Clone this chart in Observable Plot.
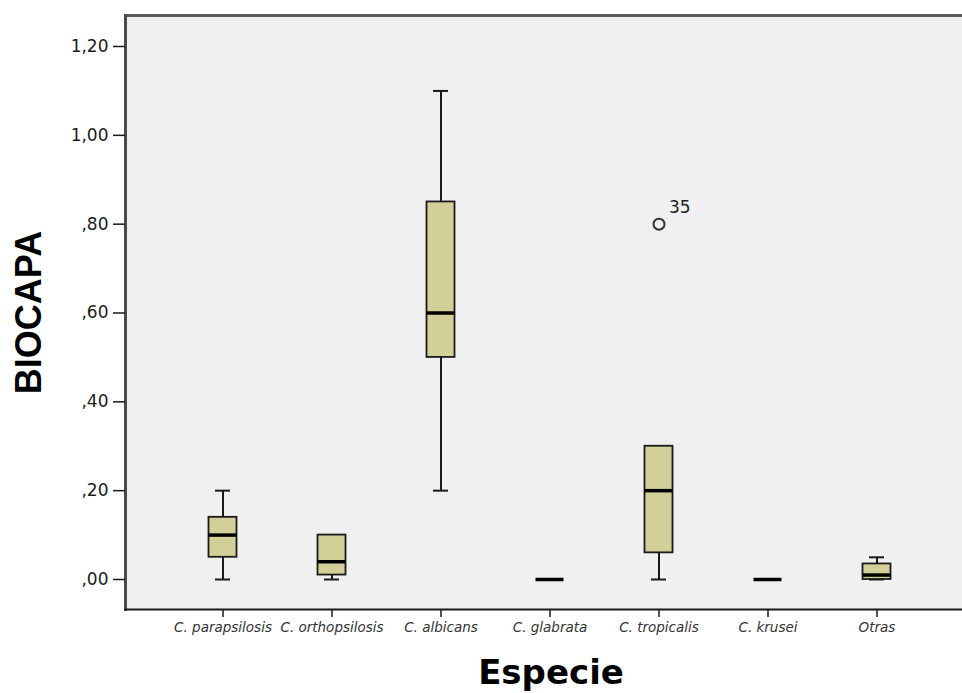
<!DOCTYPE html>
<html>
<head>
<meta charset="utf-8">
<script src="https://cdn.jsdelivr.net/npm/d3@7"></script>
<script src="https://cdn.jsdelivr.net/npm/@observablehq/plot@0.6"></script>
<style>
  body { margin: 0; background: #ffffff; }
  #chart svg [aria-label="x-axis tick label"] text { font-style: italic; }
</style>
</head>
<body>
<div id="chart"></div>
<script>
// Box-plot summaries of BIOCAPA by species
const species = ["C. parapsilosis", "C. orthopsilosis", "C. albicans", "C. glabrata", "C. tropicalis", "C. krusei", "Otras"];
const whiskerLow  = [0.00, 0.00, 0.20, 0.00, 0.00, 0.00, 0.00];
const q1          = [0.05, 0.01, 0.50, 0.00, 0.06, 0.00, 0.00];
const median      = [0.10, 0.04, 0.60, 0.00, 0.20, 0.00, 0.01];
const q3          = [0.14, 0.10, 0.85, 0.00, 0.30, 0.00, 0.035];
const whiskerHigh = [0.20, 0.10, 1.10, 0.00, 0.30, 0.00, 0.05];

// Outlying cases, labelled with their case number
const outlierSpecies = ["C. tropicalis"];
const outlierValue   = [0.80];
const outlierCase    = ["35"];

// Y axis ticks and their labels (comma decimal, no leading zero)
const yTicks      = [0, 0.2, 0.4, 0.6, 0.8, 1.0, 1.2];
const yTickLabels = [",00", ",20", ",40", ",60", ",80", "1,00", "1,20"];

const boxes = species.map((s, i) => ({
  species: s, low: whiskerLow[i], q1: q1[i], median: median[i], q3: q3[i], high: whiskerHigh[i]
}));
const outliers = outlierSpecies.map((s, i) => ({species: s, value: outlierValue[i], label: outlierCase[i]}));

const boxFill = "#d3cf98";
const ink = "#1a1a1a";

const chart = Plot.plot({
  width: 962,
  height: 693,
  marginLeft: 125,
  marginRight: 0,
  marginTop: 15,
  marginBottom: 84,
  style: {background: "#ffffff", fontFamily: "'Liberation Sans', Arial, sans-serif", color: ink},
  x: {type: "band", domain: species, padding: 0, insetLeft: 42.5, insetRight: 31.5, label: null},
  y: {domain: [0, 1.2], insetTop: 31, insetBottom: 30, label: null},
  marks: [
    Plot.frame({fill: "#f0f0f0", stroke: null}),
    Plot.frame({anchor: "top", stroke: "#5a5a5a", strokeWidth: 3}),
    Plot.frame({anchor: "left", stroke: "#4a4a4a", strokeWidth: 3}),
    Plot.frame({anchor: "bottom", stroke: ink, strokeWidth: 2}),

    Plot.axisY(yTicks, {
      tickFormat: d => yTickLabels[yTicks.indexOf(d)],
      tickSize: 12, tickPadding: 5, fontSize: 17,
      fontFamily: "'DejaVu Sans', sans-serif", stroke: ink, strokeWidth: 1.5, label: null
    }),
    Plot.axisX({
      tickSize: 8, tickPadding: 5, fontSize: 13.5,
      fontFamily: "'DejaVu Sans', sans-serif", fill: "#333", stroke: ink, strokeWidth: 1.5, label: null
    }),

    // whiskers, drawn beneath the boxes
    Plot.ruleX(boxes, {x: "species", y1: "low", y2: "high", stroke: ink, strokeWidth: 2}),
    Plot.tickY(boxes, {x: "species", y: "low", stroke: ink, strokeWidth: 2, insetLeft: 47, insetRight: 47}),
    Plot.tickY(boxes, {x: "species", y: "high", stroke: ink, strokeWidth: 2, insetLeft: 47, insetRight: 47}),
    // interquartile boxes
    Plot.barY(boxes, {x: "species", y1: "q1", y2: "q3", fill: boxFill, stroke: ink, strokeWidth: 1.8, insetLeft: 40.5, insetRight: 40.5}),
    // medians
    Plot.tickY(boxes, {x: "species", y: "median", stroke: "#000", strokeWidth: 3.5, insetLeft: 40.5, insetRight: 40.5}),

    // outliers
    Plot.dot(outliers, {x: "species", y: "value", r: 5.5, stroke: "#333", strokeWidth: 2, fill: "#f0f0f0"}),
    Plot.text(outliers, {x: "species", y: "value", text: "label", dx: 10, dy: -11, textAnchor: "start", lineAnchor: "bottom", fontSize: 17, fontFamily: "'DejaVu Sans', sans-serif", fill: "#222"}),

    // axis titles
    Plot.text(["Especie"], {frameAnchor: "bottom", dx: 7, dy: 64, fontSize: 34, fontWeight: "bold", fontFamily: "'DejaVu Sans', sans-serif", fill: "#000", lineAnchor: "middle"}),
    Plot.text(["BIOCAPA"], {frameAnchor: "left", dx: -96, rotate: -90, textAnchor: "middle", lineAnchor: "middle", fontSize: 36, fontWeight: "bold", fontFamily: "'Liberation Sans', Arial, sans-serif", fill: "#000"})
  ]
});

document.getElementById("chart").appendChild(chart);
</script>
</body>
</html>
